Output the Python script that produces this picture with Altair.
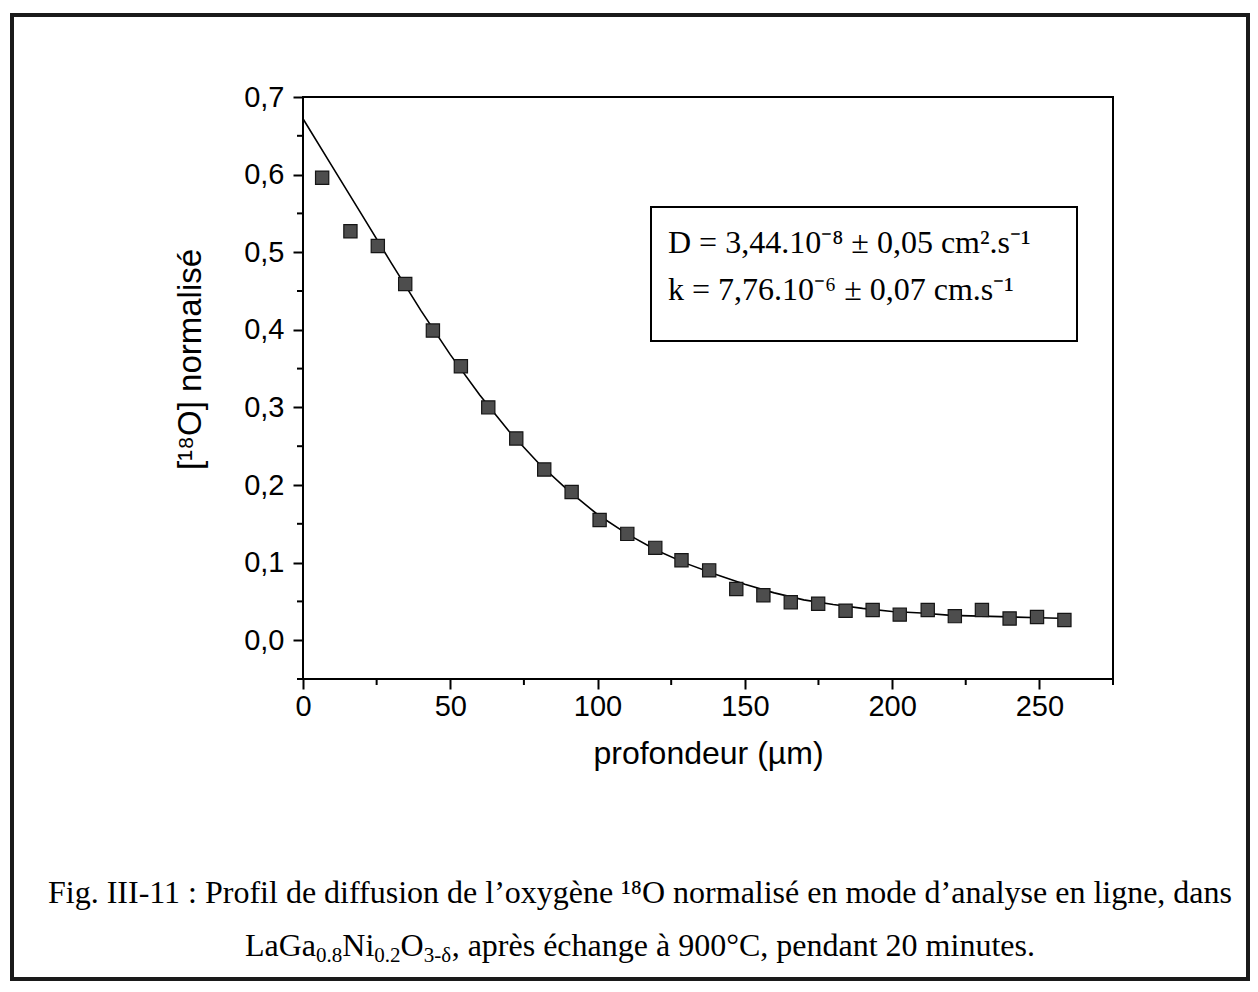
import altair as alt
import pandas as pd

# ---- data ----
depth_um = [6.5, 16.1, 25.4, 34.7, 44.1, 53.6, 62.9, 72.4, 81.9, 91.2, 100.7, 110.1,
            119.6, 128.5, 137.9, 147.1, 156.3, 165.6, 174.9, 184.2, 193.4, 202.6,
            212.1, 221.3, 230.5, 239.9, 249.2, 258.5]
o18_norm = [0.596, 0.527, 0.508, 0.459, 0.399, 0.353, 0.300, 0.260, 0.220, 0.191,
            0.155, 0.137, 0.119, 0.103, 0.090, 0.066, 0.058, 0.049, 0.047, 0.038,
            0.039, 0.033, 0.039, 0.031, 0.039, 0.028, 0.030, 0.026]

fit_depth = [0, 10, 20, 30, 40, 50, 60, 70, 80, 90, 100, 110, 120, 130, 140, 150,
             160, 170, 180, 190, 200, 210, 220, 230, 240, 250, 260]
fit_o18 = [0.672, 0.610, 0.548, 0.486, 0.425, 0.368, 0.316, 0.269, 0.228, 0.193,
           0.162, 0.137, 0.116, 0.099, 0.085, 0.072, 0.061, 0.052, 0.046, 0.041,
           0.037, 0.035, 0.032, 0.031, 0.030, 0.029, 0.028]

x_ticks = [0, 50, 100, 150, 200, 250]
x_minor = [25, 75, 125, 175, 225, 275]
y_ticks = [0.0, 0.1, 0.2, 0.3, 0.4, 0.5, 0.6, 0.7]
y_minor = [-0.05, 0.05, 0.15, 0.25, 0.35, 0.45, 0.55, 0.65]

x_title = "profondeur (µm)"
y_title = "[¹⁸O] normalisé"
box_line1 = "D = 3,44.10⁻⁸ ± 0,05 cm².s⁻¹"
box_line2 = "k = 7,76.10⁻⁶ ± 0,07 cm.s⁻¹"
caption1 = "Fig. III-11 : Profil de diffusion de l’oxygène ¹⁸O normalisé en mode d’analyse en ligne, dans"
caption2_parts = [("LaGa", False), ("0.8", True), ("Ni", False), ("0.2", True),
                  ("O", False), ("3-δ", True),
                  (", après échange à 900°C, pendant 20 minutes.", False)]

# ---- layout ----
W, H = 810, 582
PAD = {"left": 295, "top": 89, "right": 137, "bottom": 304}
SERIF = "Liberation Serif"
SANS = "Liberation Sans"
CAP_F = 32
SUB_F = 21

xs = alt.Scale(domain=[0, 275], nice=False, zero=False)
ys = alt.Scale(domain=[-0.05, 0.7], nice=False, zero=False)

xaxis = alt.Axis(title=x_title, values=x_ticks, domain=False, grid=False,
                 tickSize=10, tickWidth=2, tickColor="black",
                 labelFont=SANS, labelFontSize=29, labelColor="black",
                 labelPadding=3, labelFlush=False, labelOverlap=False,
                 titleFont=SANS, titleFontSize=32, titleFontWeight="normal",
                 titleColor="black", titleY=84, titleBaseline="alphabetic")
yaxis = alt.Axis(title=y_title, values=y_ticks, domain=False, grid=False,
                 labelExpr="replace(format(datum.value, '.1f'), '.', ',')",
                 tickSize=10, tickWidth=2, tickColor="black",
                 labelFont=SANS, labelFontSize=29, labelColor="black",
                 labelPadding=9, labelFlush=False, labelOverlap=False, labelBound=False,
                 titleFont=SANS, titleFontSize=33, titleFontWeight="normal",
                 titleColor="black", titleAngle=-90, titleX=-103, titleY=262,
                 titleBaseline="alphabetic", titleAlign="center")

pts = pd.DataFrame({"depth": depth_um, "o18": o18_norm})
fit = pd.DataFrame({"depth": fit_depth, "o18": fit_o18})
xm = pd.DataFrame({"depth": x_minor})
ym = pd.DataFrame({"o18": y_minor})
one = pd.DataFrame({"a": [0]})

line = alt.Chart(fit).mark_line(color="black", strokeWidth=1.6).encode(
    x=alt.X("depth:Q", scale=xs, axis=xaxis),
    y=alt.Y("o18:Q", scale=ys, axis=yaxis))

points = alt.Chart(pts).mark_square(size=175, filled=True, fill="#4d4d4d",
                                    stroke="#151515", strokeWidth=1.2, opacity=1).encode(
    x=alt.X("depth:Q", scale=xs, axis=xaxis),
    y=alt.Y("o18:Q", scale=ys, axis=yaxis))

xminor = alt.Chart(xm).mark_rule(color="black", strokeWidth=2).encode(
    x=alt.X("depth:Q", scale=xs, axis=xaxis), y=alt.value(H), y2=alt.value(H + 6))
yminor = alt.Chart(ym).mark_rule(color="black", strokeWidth=2).encode(
    y=alt.Y("o18:Q", scale=ys, axis=yaxis), x=alt.value(-6), x2=alt.value(0))

box = alt.Chart(one).mark_rect(fill="white", stroke="black", strokeWidth=2).encode(
    x=alt.value(348), x2=alt.value(774), y=alt.value(110), y2=alt.value(244))
t1 = alt.Chart(one).mark_text(text=box_line1, align="left", baseline="alphabetic",
                              font=SERIF, fontSize=32, color="black").encode(
    x=alt.value(365), y=alt.value(156))
t2 = alt.Chart(one).mark_text(text=box_line2, align="left", baseline="alphabetic",
                              font=SERIF, fontSize=32, color="black").encode(
    x=alt.value(365), y=alt.value(203))

frame = alt.Chart(one).mark_rect(fill=None, stroke="#1a1a1a", strokeWidth=4).encode(
    x=alt.value(-291), x2=alt.value(945), y=alt.value(-82), y2=alt.value(882))

c1 = alt.Chart(one).mark_text(text=caption1, align="center", baseline="alphabetic",
                              font=SERIF, fontSize=CAP_F, color="black").encode(
    x=alt.value(337), y=alt.value(806))

# approximate Times advance widths (em/1000) for laying out the subscript pieces
tw = {"L": 611, "a": 444, "G": 722, "N": 722, "i": 278, "O": 722, ".": 250, "-": 333,
      "δ": 500, ",": 250, " ": 250, "p": 500, "r": 333, "è": 444, "s": 389, "é": 444,
      "c": 444, "h": 500, "n": 500, "g": 500, "e": 444, "à": 444, "°": 400, "C": 667,
      "d": 500, "t": 278, "m": 778, "u": 500}
def width(s, f):
    return sum(tw.get(ch, 500) for ch in s) / 1000 * f

total = sum(width(s, SUB_F if sub else CAP_F) for s, sub in caption2_parts)
cx = 337 - total / 2
cap2_layers = []
for s, sub in caption2_parts:
    f = SUB_F if sub else CAP_F
    cap2_layers.append(
        alt.Chart(one).mark_text(text=s, align="left", baseline="alphabetic",
                                 font=SERIF, fontSize=f, color="black").encode(
            x=alt.value(cx), y=alt.value(865 if sub else 859)))
    cx += width(s, f)

chart = alt.layer(frame, xminor, yminor, line, points, box, t1, t2, c1, *cap2_layers).properties(
    width=W, height=H,
    autosize=alt.AutoSizeParams(type="none"),
    padding=PAD,
    background="white",
).configure_view(stroke="black", strokeWidth=2)

chart.save("out.html", embed_options={"renderer": "svg", "actions": False})
